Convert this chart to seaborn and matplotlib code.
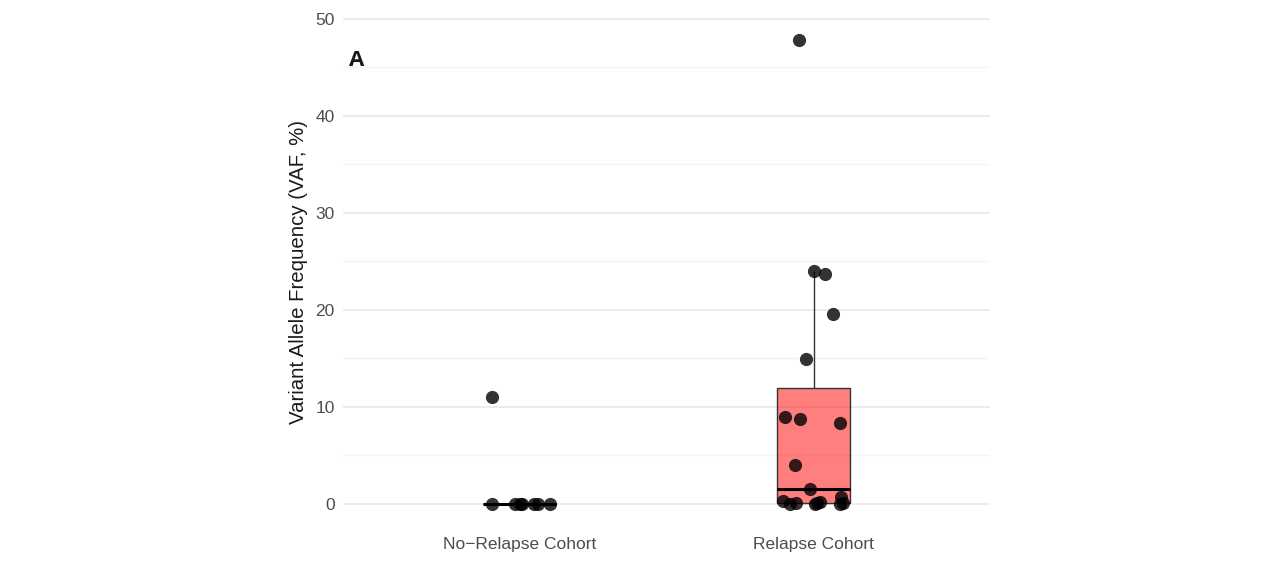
import numpy as np
import pandas as pd
import matplotlib
matplotlib.use("Agg")
import matplotlib.pyplot as plt
import seaborn as sns

# values
cohorts = ["No\u2212Relapse Cohort", "Relapse Cohort"]
no_relapse_vaf = [11.0, 0.0, 0.0, 0.0, 0.0, 0.0, 0.0, 0.0]
relapse_vaf = [47.8, 24.0, 23.7, 19.6, 14.9, 8.9, 8.7, 8.3, 4.0, 1.5, 0.7,
               0.3, 0.2, 0.1, 0.1, 0.05, 0.0, 0.0, 0.0]

df = pd.DataFrame({
    "cohort": [cohorts[0]] * len(no_relapse_vaf) + [cohorts[1]] * len(relapse_vaf),
    "vaf": no_relapse_vaf + relapse_vaf,
})

sns.set_theme(style="whitegrid")
plt.rcParams['font.family'] = ['Liberation Sans', 'DejaVu Sans']

fig = plt.figure(figsize=(12.74, 5.75), dpi=100)
ax = fig.add_axes([0.2692, 0.0835, 0.5079, 0.887])

sns.boxplot(data=df, x="cohort", y="vaf", order=cohorts, hue="cohort",
            palette={cohorts[0]: "#00BFC4", cohorts[1]: "#FF0000"}, saturation=1,
            width=0.25, showfliers=False, showcaps=False, linewidth=1.0,
            linecolor="#333333", legend=False,
            medianprops={"color": "black", "linewidth": 2.2},
            whiskerprops={"color": "#333333"}, ax=ax)
# semi-transparent box fill, as in the original
for patch in ax.patches:
    fc = patch.get_facecolor()
    patch.set_facecolor((fc[0], fc[1], fc[2], 0.5))

np.random.seed(7)
sns.stripplot(data=df, x="cohort", y="vaf", order=cohorts, color="black",
              alpha=0.8, size=9.5, jitter=0.11, linewidth=0, ax=ax)

ax.set_xlim(-0.6, 1.6)
ax.set_ylim(-2.4, 50.2)
ax.set_yticks([0, 10, 20, 30, 40, 50])
ax.set_yticks([5, 15, 25, 35, 45], minor=True)
ax.grid(True, which="major", axis="y", color="#ebebeb", linewidth=1.4)
ax.grid(True, which="minor", axis="y", color="#f4f4f4", linewidth=1.0)
ax.grid(False, axis="x")
for s in ax.spines.values():
    s.set_visible(False)
ax.tick_params(axis="both", length=0, labelsize=12.5, labelcolor="#4d4d4d")
ax.tick_params(axis="x", pad=7)
ax.tick_params(axis="y", pad=6)
ax.set_xlabel("")
ax.set_ylabel("Variant Allele Frequency (VAF, %)", fontsize=14.7, color="#1a1a1a", labelpad=5)

fig.text(349 / 1274, 1 - 60 / 575, "A", fontsize=16, fontweight="bold",
         color="#1a1a1a", va="center", ha="left", family=["Open Sans", "DejaVu Sans"])

fig.savefig("out.png", dpi=100, facecolor="white")
